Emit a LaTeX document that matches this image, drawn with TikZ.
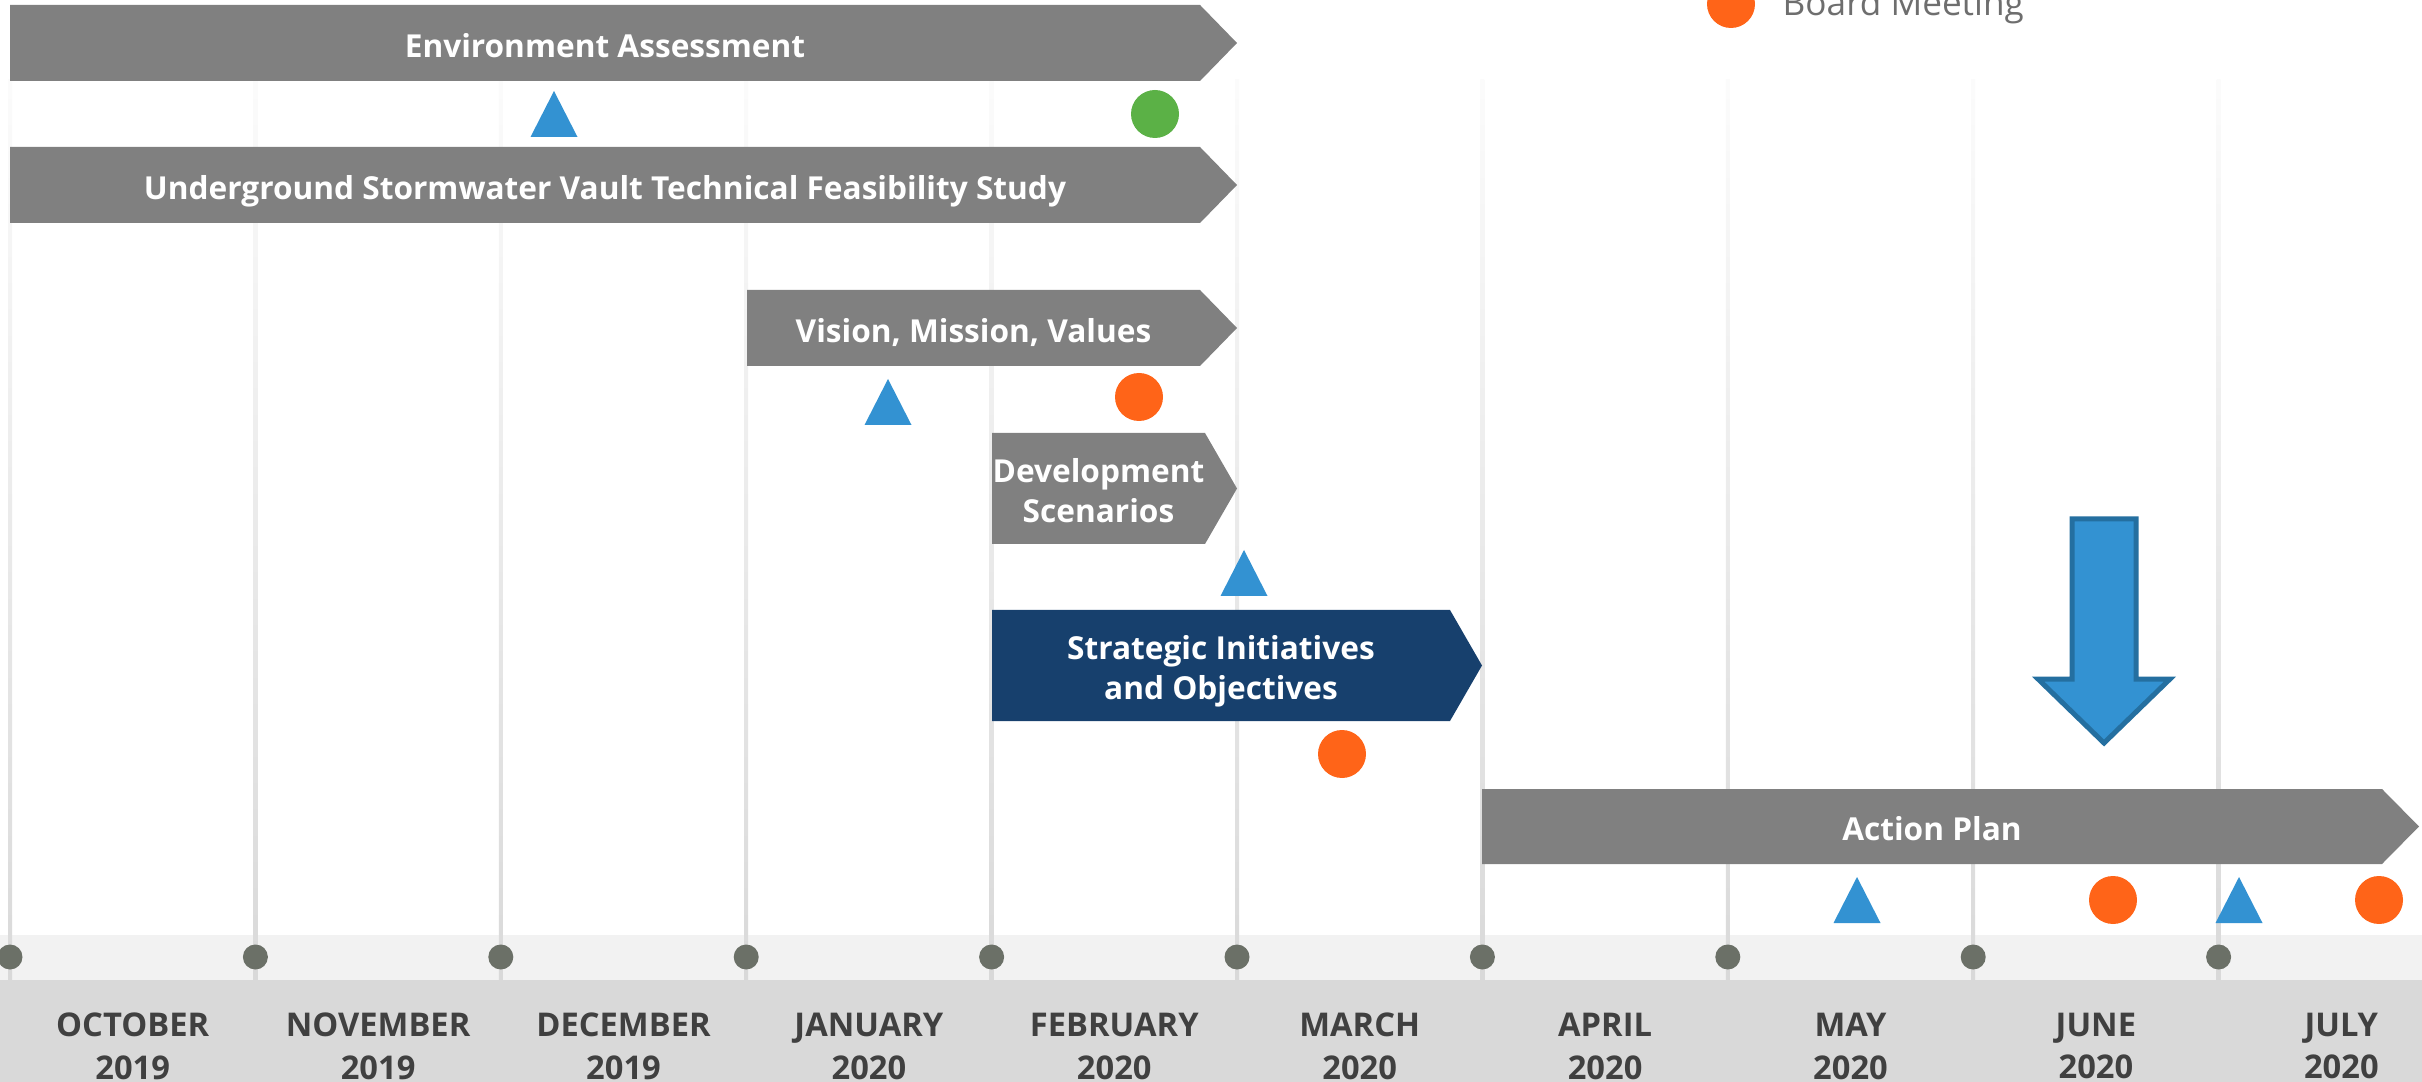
\documentclass[tikz,border=0pt]{standalone}
\usepackage{fontspec}
\setmainfont{Open Sans}
\IfFontExistsTF{Open Sans SemiBold}{\newfontfamily\semibold{Open Sans SemiBold}}{\newfontfamily\semibold{Open Sans}[UprightFont=*-Bold]}
\usetikzlibrary{calc}
\definecolor{barGray}{HTML}{808080}
\definecolor{stratBlue}{HTML}{17406D}
\definecolor{msBlue}{HTML}{3392D2}
\definecolor{arrowEdge}{HTML}{246FA0}
\definecolor{meetOrange}{HTML}{FF6418}
\definecolor{greenDot}{HTML}{5BB146}
\definecolor{dotGray}{HTML}{6B7067}
\definecolor{bandLight}{HTML}{F2F2F2}
\definecolor{bandDark}{HTML}{D9D9D9}
\definecolor{monthText}{HTML}{404040}
\definecolor{legendText}{HTML}{6E6E6E}
\newcommand{\phase}[8]{ \fill[#6] (#1,#3) -- (#2,#3) -- ($(#5,#3)!0.5!(#5,#4)$) -- (#2,#4) -- (#1,#4) -- cycle;
  \node[phasetext] (#7) at ($(#1,#3)!0.5!(#2,#4)+(0,2)$) {#8};}
\newcommand{\milestone}[2]{ \fill[msBlue] (#1,#2) -- ++(23.5,46) -- ++(-47,0) -- cycle;}
\newcommand{\meeting}[3]{ \fill[#3] (#1,#2) circle[radius=24];}

\begin{document}
\begin{tikzpicture}[x=0.1mm,y=-0.1mm,
    phasetext/.style={text=white,font=\semibold\fontsize{9}{11.5}\selectfont,align=center,inner sep=0pt,text depth=0pt},
    monthlabel/.style={text=monthText,font=\semibold\fontsize{9.3}{12.2}\selectfont,align=center,inner sep=0pt,anchor=north}]
        \useasboundingbox (0,0) rectangle (2422,1082);

        % bands
        \fill[bandLight] (0,935) rectangle (2422,980);
        \fill[bandDark] (0,980) rectangle (2422,1082);

        % months
        \foreach \mon/\yr [count=\i from 0] in {OCTOBER/2019,NOVEMBER/2019,DECEMBER/2019,JANUARY/2020,FEBRUARY/2020,MARCH/2020,APRIL/2020,MAY/2020,JUNE/2020,JULY/2020}{
            \pgfmathsetmacro{\gx}{10+245.4*\i}
            \shade[top color=white!90!bandDark,bottom color=bandDark] ({\gx-2},80) rectangle ({\gx+2},980);
            \fill[dotGray] (\gx,957) circle[radius=12.5];
            \node[monthlabel] (month\i) at ({\gx+122.7},1012) {\mon\\\yr};
        }

        % phases
        \phase{10}{1200}{5}{81}{1237}{barGray}{envassess}{Environment Assessment}
        \phase{10}{1200}{147}{223}{1237}{barGray}{vaultstudy}{Underground Stormwater Vault Technical Feasibility Study}
        \phase{747}{1200}{290}{366}{1237}{barGray}{vision}{Vision, Mission, Values}
        \phase{992}{1205}{433}{544}{1237}{barGray}{devscen}{Development\\Scenarios}
        \phase{992}{1450}{610}{721}{1482}{stratBlue}{strategic}{Strategic Initiatives\\and Objectives}
        \phase{1482}{2382}{789}{864}{2419}{barGray}{actionplan}{Action Plan}

        % milestones
        \milestone{554}{91}
        \milestone{888}{379}
        \milestone{1244}{550}
        \milestone{1857}{877}
        \milestone{2239}{877}

        % meetings
        \meeting{1155}{114}{greenDot}
        \meeting{1139}{397}{meetOrange}
        \meeting{1342}{754}{meetOrange}
        \meeting{2113}{900}{meetOrange}
        \meeting{2379}{900}{meetOrange}

        % now
        \filldraw[fill=msBlue,draw=arrowEdge,line width=0.5mm] (2072,519) -- (2136,519) -- (2136,679) -- (2170,679) -- (2104,743) -- (2038,679) -- (2072,679) -- cycle;

        % legend
        \meeting{1731}{4}{meetOrange}
        \node[anchor=base west,text=legendText,font=\fontsize{10}{12}\selectfont,inner sep=0pt] (legend) at (1782,16) {Board Meeting};
    \end{tikzpicture}
\end{document}
